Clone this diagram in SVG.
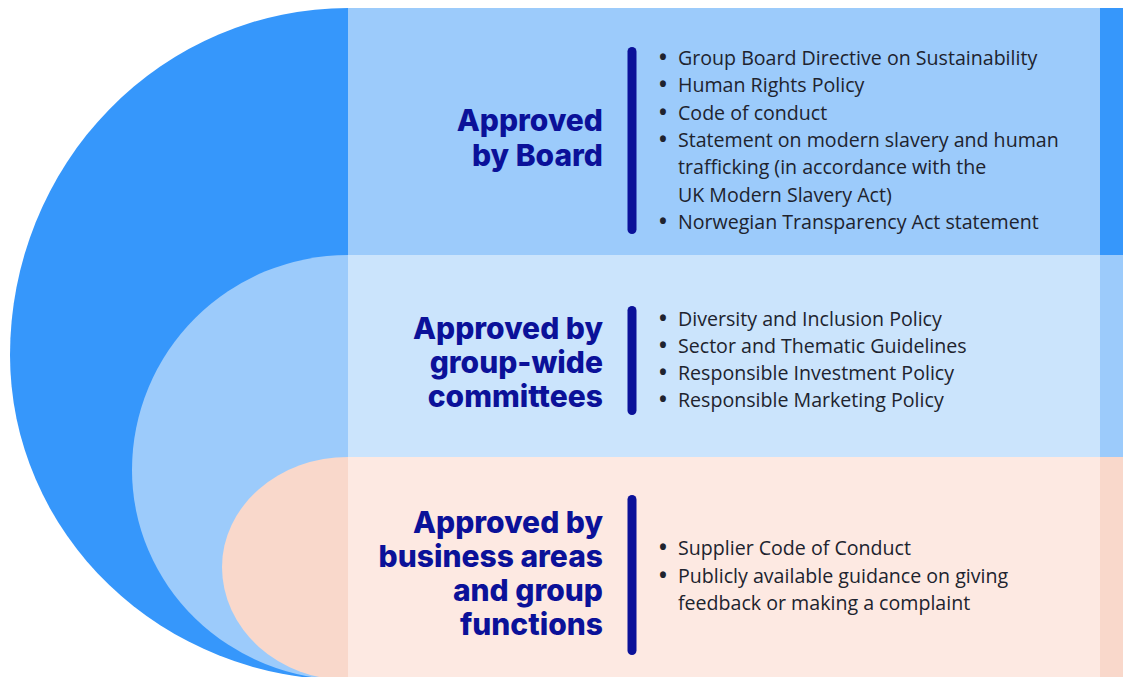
<svg xmlns="http://www.w3.org/2000/svg" width="1123" height="677" viewBox="0 0 1123 677">
<style>
.title{font-family:Inter,"Liberation Sans",sans-serif;font-weight:800;font-size:30px;fill:#0b1199;text-anchor:end}
.item{font-family:"Open Sans","Noto Sans",sans-serif;font-size:19.6px;fill:#20232e}
.b{font-weight:bold;font-size:21px}
.bar{fill:#0b1199}
</style>
<rect width="1123" height="677" fill="#ffffff"/>
<g id="shapes">
<path d="M348 8 A338 347 0 0 0 10 355 A338 325 0 0 0 348 680 L1123 680 L1123 8 Z" fill="#3697fb"/>
<path d="M348 255 A216 215 0 0 0 132 470 A216 210 0 0 0 348 680 L1123 680 L1123 255 Z" fill="#9ccbfb"/>
<path d="M348 457 A126 110 0 0 0 222 567 A126 113 0 0 0 348 680 L1123 680 L1123 457 Z" fill="#f9d8cb"/>
<rect x="348" y="8" width="752" height="247" fill="#9ccbfb"/>
<rect x="348" y="255" width="752" height="202" fill="#cbe4fc"/>
<rect x="348" y="457" width="752" height="220" fill="#fde9e2"/>
</g>
<g id="band-board">
<text class="title" x="603" y="131">Approved</text>
<text class="title" x="603" y="166">by Board</text>
<rect class="bar" x="627.5" y="47" width="9" height="187" rx="4.5"/>
<text class="item" x="659" y="65"><tspan class="b">•</tspan><tspan x="678">Group Board Directive on Sustainability</tspan></text>
<text class="item" x="659" y="92"><tspan class="b">•</tspan><tspan x="678">Human Rights Policy</tspan></text>
<text class="item" x="659" y="120"><tspan class="b">•</tspan><tspan x="678">Code of conduct</tspan></text>
<text class="item" x="659" y="147"><tspan class="b">•</tspan><tspan x="678">Statement on modern slavery and human</tspan></text>
<text class="item" x="678" y="174">trafficking (in accordance with the</text>
<text class="item" x="678" y="202">UK Modern Slavery Act)</text>
<text class="item" x="659" y="229"><tspan class="b">•</tspan><tspan x="678">Norwegian Transparency Act statement</tspan></text>
</g>
<g id="band-committees">
<text class="title" x="603" y="339">Approved by</text>
<text class="title" x="603" y="373">group-wide</text>
<text class="title" x="603" y="407">committees</text>
<rect class="bar" x="627.5" y="306" width="9" height="109" rx="4.5"/>
<text class="item" x="659" y="326"><tspan class="b">•</tspan><tspan x="678">Diversity and Inclusion Policy</tspan></text>
<text class="item" x="659" y="353"><tspan class="b">•</tspan><tspan x="678">Sector and Thematic Guidelines</tspan></text>
<text class="item" x="659" y="380"><tspan class="b">•</tspan><tspan x="678">Responsible Investment Policy</tspan></text>
<text class="item" x="659" y="407"><tspan class="b">•</tspan><tspan x="678">Responsible Marketing Policy</tspan></text>
</g>
<g id="band-business">
<text class="title" x="603" y="533">Approved by</text>
<text class="title" x="603" y="567">business areas</text>
<text class="title" x="603" y="601">and group</text>
<text class="title" x="603" y="635">functions</text>
<rect class="bar" x="627.5" y="495" width="9" height="160" rx="4.5"/>
<text class="item" x="659" y="555"><tspan class="b">•</tspan><tspan x="678">Supplier Code of Conduct</tspan></text>
<text class="item" x="659" y="583"><tspan class="b">•</tspan><tspan x="678">Publicly available guidance on giving</tspan></text>
<text class="item" x="678" y="610">feedback or making a complaint</text>
</g>
<g id="connectors"/>
</svg>
